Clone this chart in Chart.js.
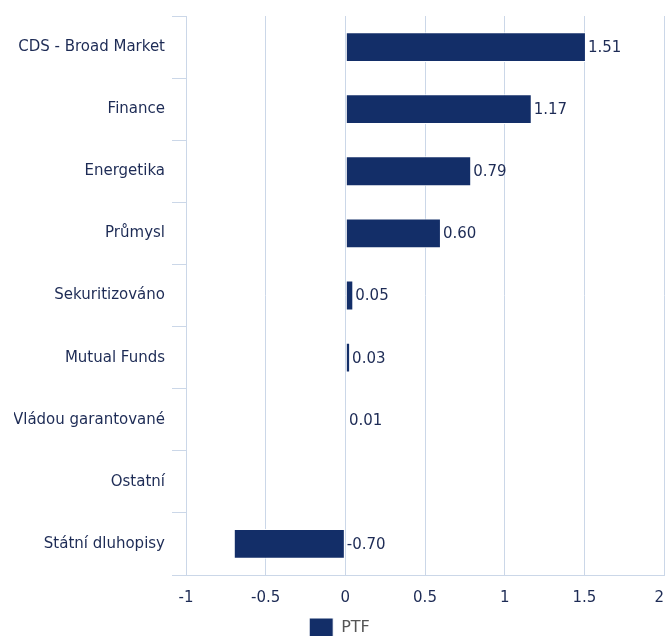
<!DOCTYPE html>
<html>
<head>
<meta charset="utf-8">
<script src="https://cdn.jsdelivr.net/npm/chart.js@4/dist/chart.umd.min.js"></script>
<style>
  html, body { margin: 0; padding: 0; background: #fff; overflow: hidden; }
  #wrap { position: relative; width: 665px; height: 648px; }
</style>
</head>
<body>
<div id="wrap"><canvas id="chart"></canvas></div>
<script>
// --- DATI ---
const categories = ["CDS - Broad Market", "Finance", "Energetika", "Průmysl", "Sekuritizováno",
  "Mutual Funds", "Vládou garantované", "Ostatní", "Státní dluhopisy"];
const ptf = [1.51, 1.17, 0.79, 0.60, 0.05, 0.03, 0.01, null, -0.70];
const xTicks = [-1, -0.5, 0, 0.5, 1, 1.5, 2];

const navy = "#132e68";
const textCol = "#1d2b55";
const gridCol = "#cbd7e8";
const font = { family: "DejaVu Sans", size: 15 };

// etichette dei valori alla fine delle barre
const valueLabels = {
  id: "valueLabels",
  afterDatasetsDraw(chart) {
    const ctx = chart.ctx;
    const meta = chart.getDatasetMeta(0);
    ctx.save();
    ctx.font = "15px 'DejaVu Sans'";
    ctx.fillStyle = textCol;
    ctx.textAlign = "left";
    ctx.textBaseline = "middle";
    meta.data.forEach((bar, i) => {
      const v = ptf[i];
      if (v === null) return;
      const x = Math.max(bar.x, bar.base) + 2;
      ctx.fillText(v.toFixed(2), x, bar.y + 1);
    });
    ctx.restore();
  }
};

new Chart(document.getElementById("chart"), {
  type: "bar",
  data: {
    labels: categories,
    datasets: [{
      label: "PTF",
      data: ptf,
      backgroundColor: navy,
      borderColor: "#ffffff",
      borderWidth: 1,
      borderSkipped: false,
      categoryPercentage: 1,
      barPercentage: 0.48
    }]
  },
  options: {
    indexAxis: "y",
    responsive: true,
    maintainAspectRatio: false,
    animation: false,
    layout: { padding: { top: 15, left: 14, right: 0, bottom: 0 } },
    scales: {
      x: {
        min: -1,
        max: 2,
        afterBuildTicks: s => { s.ticks = xTicks.map(v => ({ value: v })); },
        ticks: {
          color: textCol,
          font: font,
          padding: 14,
          maxRotation: 0,
          // l'ultima etichetta resta dentro il bordo
          callback: v => (v === 2 ? "2  " : String(v))
        },
        grid: { color: gridCol, drawTicks: false },
        border: { color: gridCol },
        afterFit: s => { s.height = 33; s.paddingRight = 1; s.paddingLeft = 0; }
      },
      y: {
        ticks: { color: textCol, font: font, padding: 7 },
        grid: { color: gridCol, offset: true, drawOnChartArea: false, tickLength: 14 },
        border: { color: gridCol },
        afterFit: s => { s.width = 172; }
      }
    },
    plugins: {
      legend: {
        position: "bottom",
        labels: {
          boxWidth: 24,
          boxHeight: 20,
          padding: 10,
          color: "#555555",
          font: { family: "DejaVu Sans", size: 16 }
        }
      },
      tooltip: { enabled: false }
    }
  },
  plugins: [valueLabels]
});
</script>
</body>
</html>
